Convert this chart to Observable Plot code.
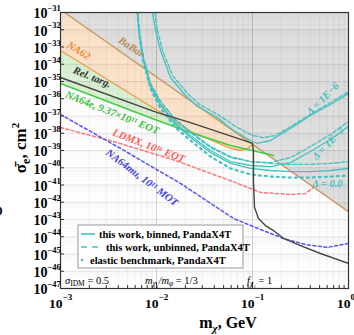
<!DOCTYPE html>
<html><head><meta charset="utf-8">
<script src="https://cdn.jsdelivr.net/npm/d3@7"></script>
<script src="https://cdn.jsdelivr.net/npm/@observablehq/plot@0.6"></script>
<style>body{margin:0;background:#fff}</style>
</head><body><div id="chart"></div>
<script>
// ---- data: log10(m_chi / GeV) and log10(sigma_e / cm^2) ----
const babarLogM = [-3, 0];
const babarLogS = [-30.83, -42.55];
const na62LogM = [-3, -1.99, -1.646, -1.229, -1.125, -1.052, -1.0];
const na62LogS = [-33.20, -36.68, -37.90, -38.88, -39.0, -38.91, -38.62];
const na64eLogM = [-3, -1.99, -1.646, -1.229, -0.781];
const na64eLogS = [-35.12, -37.26, -37.96, -38.71, -39.29];
const relLogM = [-3, -1.99, -1.646, -1.021, -1.0, -0.99, -0.99, -0.979, -0.9375, -0.865, -0.781, -0.677, -0.5, -0.292, 0];
const relLogS = [-34.77, -36.80, -37.38, -38.54, -38.59, -39.0, -40.74, -42.30, -42.94, -43.35, -43.64, -44.10, -44.51, -44.97, -45.55];
const na64muLogM = [-3, -2.375, -1.75, -1.198, -0.917, -0.677, -0.448, -0.219, 0];
const na64muLogS = [-36.91, -38.88, -40.91, -42.94, -43.58, -44.10, -44.45, -44.62, -44.39];
const ldmxLogM = [-3, -2.448, -1.802, -1.177, -0.917, -0.604, -0.448, -0.365];
const ldmxLogS = [-37.67, -38.48, -39.58, -40.86, -41.43, -41.55, -41.49, -41.14];

// PandaX-4T curves (this work)
const lowLogM = [-2.198, -2.177, -2.135, -2.0625, -1.958, -1.802, -1.646, -1.4375, -1.229, -1.021, -0.8125, -0.604, -0.396, -0.1875, 0];
const d0BinnedLogS   = [-31, -32.33, -33.78, -35.29, -36.39, -37.49, -38.25, -39.12, -39.75, -40.04, -40.16, -40.22, -40.22, -40.16, -40.04];
const d0UnbinnedLogS = [-31, -32.22, -33.61, -35.12, -36.16, -37.20, -37.90, -38.77, -39.35, -39.64, -39.75, -39.81, -39.81, -39.75, -39.64];
const d0ElasticLogS  = [-31, -32.39, -33.90, -35.41, -36.57, -37.67, -38.42, -39.35, -40.04, -40.39, -40.51, -40.57, -40.57, -40.51, -40.45];
const d7BinnedLogS   = [-31, -32.33, -33.78, -35.23, -36.33, -37.43, -38.13, -39.0, -39.64, -39.87, -39.93, -39.70, -39.06, -38.36, -37.61];
const d7UnbinnedLogS = [-31, -32.28, -33.67, -35.12, -36.16, -37.26, -37.96, -38.83, -39.41, -39.64, -39.70, -39.41, -38.77, -38.07, -37.32];
const d6BinnedLogM   = [-2.042, -2.010, -1.958, -1.854, -1.698, -1.573, -1.365, -1.198, -1.021, -0.948, -0.8125, -0.604, -0.396, -0.1875, 0];
const d6BinnedLogS   = [-31, -32.04, -33.20, -34.77, -35.81, -36.45, -37.09, -37.84, -38.42, -38.59, -38.42, -37.72, -36.97, -36.33, -35.70];
const d6UnbinnedLogM = [-2.021, -1.990, -1.9375, -1.833, -1.677, -1.552, -1.344, -1.177, -1.0, -0.885, -0.760, -0.583, -0.385, -0.1875, 0];
const d6UnbinnedLogS = [-31, -32.04, -33.20, -34.65, -35.70, -36.33, -36.97, -37.61, -38.13, -38.25, -38.13, -37.55, -36.86, -36.22, -35.58];

const xTickExps = [-3, -2, -1, 0];
const yTickExps = d3.range(-47, -30);

// ---- build tables ----
const pts = (lm, ls) => lm.map((m, i) => ({m: 10 ** m, s: 10 ** ls[i]}));
const X0 = 1e-3, X1 = 1, Y0 = 1e-47, Y1 = 1e-31;
const xMinor = []; for (let e = -3; e < 0; e++) for (let k = 1; k <= 9; k++) xMinor.push(k * 10 ** e); xMinor.push(1);
const yMinor = []; for (let e = -47; e < -31; e++) for (let k = 1; k <= 9; k++) yMinor.push(k * 10 ** e);
const yMajor = yTickExps.map(e => 10 ** e);
const xMajor = xTickExps.map(e => 10 ** e);

const CY = "#45c1c1";
const serif = "Liberation Serif";

const labels = [
  {m: 10**-2.26, s: 10**-33.0, t: "BaBar", c: "#b88a50", r: 33},
  {m: 10**-2.81, s: 10**-33.2, t: "NA62", c: "#f08a30", r: 32},
  {m: 10**-2.67, s: 10**-34.75, t: "Rel. targ.", c: "#333", r: 22},
  {m: 10**-2.46, s: 10**-36.8, t: "NA64e, 9.37\u00d710\u00b9\u00b9 EOT", c: "#33c433", r: 22},
  {m: 10**-2.08, s: 10**-38.72, t: "LDMX, 10\u00b9\u2076 EOT", c: "#ff5555", r: 21},
  {m: 10**-2.15, s: 10**-40.57, t: "NA64mu, 10\u00b9\u00b9 MOT", c: "#3f3fe0", r: 37},
  {m: 10**-0.27, s: 10**-36.0, t: "\u0394 = 1E\u22126", c: CY, r: -45},
  {m: 10**-0.21, s: 10**-38.6, t: "\u0394 = 1E\u22127", c: CY, r: -45},
  {m: 10**-0.22, s: 10**-40.9, t: "\u0394 = 0.0", c: CY, r: 0}
];

const lineOpts = (stroke, extra = {}) => ({x: "m", y: "s", stroke, strokeWidth: 1.3, clip: true, ...extra});

const chart = Plot.plot({
  width: 354, height: 335,
  marginLeft: 60, marginRight: 6, marginTop: 12, marginBottom: 47,
  x: {type: "log", domain: [X0, X1], axis: null},
  y: {type: "log", domain: [Y0, Y1], axis: null},
  style: {fontFamily: serif, background: "#fff"},
  marks: [
    Plot.areaY(pts(na64eLogM, na64eLogS), {x: "m", y1: "s", y2: Y1, fill: "#daf1d3", clip: true}),
    Plot.areaY(pts(na62LogM, na62LogS), {x: "m", y1: "s", y2: Y1, fill: "#fde3cb", clip: true}),
    Plot.areaY(pts(babarLogM, babarLogS), {x: "m", y1: "s", y2: Y1, fill: "#e0e0e0", clip: true}),
    Plot.ruleX(xMinor, {x: d => d, stroke: "#000", strokeOpacity: 0.07, strokeWidth: 0.8}),
    Plot.ruleY(yMinor, {y: d => d, stroke: "#000", strokeOpacity: 0.05, strokeWidth: 0.6}),
    Plot.ruleY(yMajor, {y: d => d, stroke: "#000", strokeOpacity: 0.1, strokeWidth: 0.8}),
    Plot.ruleX(xMajor, {x: d => d, stroke: "#000", strokeOpacity: 0.15, strokeWidth: 0.8}),
    Plot.line(pts(babarLogM, babarLogS), lineOpts("#c49a60")),
    Plot.line(pts(na62LogM, na62LogS), lineOpts("#f59a40")),
    Plot.line(pts(na64eLogM, na64eLogS), lineOpts("#44cc44", {strokeWidth: 1.6})),
    Plot.line(pts(ldmxLogM, ldmxLogS), lineOpts("#ff7777", {strokeDasharray: "3,2.5", strokeWidth: 1.5})),
    Plot.line(pts(na64muLogM, na64muLogS), lineOpts("#5555ee", {strokeDasharray: "3,2.5", strokeWidth: 1.5})),
    Plot.line(pts(lowLogM, d0ElasticLogS), lineOpts(CY, {strokeDasharray: "2,4", strokeWidth: 2.2})),
    Plot.line(pts(lowLogM, d0UnbinnedLogS), lineOpts(CY, {strokeDasharray: "4,2"})),
    Plot.line(pts(lowLogM, d0BinnedLogS), lineOpts(CY)),
    Plot.line(pts(lowLogM, d7UnbinnedLogS), lineOpts(CY, {strokeDasharray: "4,2"})),
    Plot.line(pts(lowLogM, d7BinnedLogS), lineOpts(CY)),
    Plot.line(pts(d6UnbinnedLogM, d6UnbinnedLogS), lineOpts(CY, {strokeDasharray: "4,2"})),
    Plot.line(pts(d6BinnedLogM, d6BinnedLogS), lineOpts(CY)),
    Plot.line(pts(relLogM, relLogS), lineOpts("#444", {strokeWidth: 1.4})),
    Plot.text(labels, {x: "m", y: "s", text: "t", fill: "c", rotate: "r", fontSize: 10.5, fontWeight: "bold", fontStyle: "italic"}),
    Plot.frame({stroke: "#333", strokeWidth: 1.2}),
    Plot.ruleX(xMinor, {x: d => d, insetTop: 273, stroke: "#333"}),
    Plot.ruleX(xMajor, {x: d => d, insetTop: 270, stroke: "#333"}),
    Plot.ruleY(yMajor, {y: d => d, insetRight: 284, stroke: "#333"}),
    Plot.text(xTickExps, {x: d => 10 ** d, frameAnchor: "bottom", text: () => "10", textAnchor: "end", dx: 2, dy: 10, fontSize: 13.5, fontWeight: "bold", lineAnchor: "top"}),
    Plot.text(xTickExps, {x: d => 10 ** d, frameAnchor: "bottom", text: d => "\u2212".repeat(d < 0) + Math.abs(d), textAnchor: "start", dx: 2, dy: 5, fontSize: 9, fontWeight: "bold", lineAnchor: "top"}),
    Plot.text(yTickExps, {y: d => 10 ** d, frameAnchor: "left", text: () => "10", textAnchor: "end", dx: -13, dy: 1.5, fontSize: 14, fontWeight: "bold"}),
    Plot.text(yTickExps, {y: d => 10 ** d, frameAnchor: "left", text: d => "\u2212" + Math.abs(d), textAnchor: "start", dx: -13, dy: -4, fontSize: 8.5, fontWeight: "bold"})
  ]
});
document.getElementById("chart").appendChild(chart);

// ---- annotations: axis titles, legend, parameter row ----
const svg = d3.select(chart);
const ann = svg.append("g").attr("font-family", serif).attr("font-weight", "bold");
const yl = ann.append("text").attr("transform", "translate(26,148) rotate(-90)").attr("text-anchor", "middle").attr("font-size", 17);
yl.append("tspan").text("\u03c3\u0304");
yl.append("tspan").attr("font-size", 12).attr("dy", 4).text("e");
yl.append("tspan").attr("dy", -4).text(", cm");
yl.append("tspan").attr("font-size", 11).attr("dy", -7).text("2");
const xl = ann.append("text").attr("x", 228).attr("y", 328).attr("text-anchor", "middle").attr("font-size", 16);
xl.append("tspan").text("m");
xl.append("tspan").attr("font-size", 11).attr("dy", 4).attr("font-style", "italic").text("\u03c7");
xl.append("tspan").attr("dy", -4).text(", GeV");
ann.append("text").attr("x", -4).attr("y", 215).attr("font-size", 13).attr("text-anchor", "start").text("0");

const lg = svg.append("g").attr("font-family", serif).attr("font-weight", "bold").attr("font-size", 10.5).attr("text-anchor", "start");
lg.append("rect").attr("x", 78).attr("y", 225).attr("width", 165).attr("height", 43).attr("fill", "#fff").attr("stroke", "#999");
lg.append("line").attr("x1", 81).attr("x2", 95).attr("y1", 234).attr("y2", 234).attr("stroke", CY).attr("stroke-width", 1.6);
lg.append("line").attr("x1", 81).attr("x2", 100).attr("y1", 247).attr("y2", 247).attr("stroke", CY).attr("stroke-width", 1.6).attr("stroke-dasharray", "6,5");
lg.append("circle").attr("cx", 82).attr("cy", 260).attr("r", 1.3).attr("fill", CY);
lg.append("text").attr("x", 99).attr("y", 238).text("this work, binned, PandaX4T");
lg.append("text").attr("x", 106).attr("y", 251).text("this work, unbinned, PandaX4T");
lg.append("text").attr("x", 90).attr("y", 264).text("elastic benchmark, PandaX4T");

const pr = svg.append("g").attr("font-family", serif).attr("font-style", "italic").attr("font-size", 10.5).attr("text-anchor", "start");
const p1 = pr.append("text").attr("x", 65).attr("y", 284);
p1.append("tspan").text("\u03c3");
p1.append("tspan").attr("font-size", 7.5).attr("dy", 2).attr("font-style", "normal").text("IDM");
p1.append("tspan").attr("dy", -2).attr("font-style", "normal").text(" = 0.5");
const p2 = pr.append("text").attr("x", 145).attr("y", 284);
p2.append("tspan").text("m");
p2.append("tspan").attr("font-size", 7.5).attr("dy", 2).text("\u03c7\u2081");
p2.append("tspan").attr("dy", -2).text("/m");
p2.append("tspan").attr("font-size", 7.5).attr("dy", 2).text("\u03c6");
p2.append("tspan").attr("dy", -2).attr("font-style", "normal").text(" = 1/3");
const p3 = pr.append("text").attr("x", 247).attr("y", 284);
p3.append("tspan").text("f");
p3.append("tspan").attr("font-size", 7.5).attr("dy", 2).text("\u03c7\u2081");
p3.append("tspan").attr("dy", -2).attr("font-style", "normal").text(" = 1");
</script></body></html>
